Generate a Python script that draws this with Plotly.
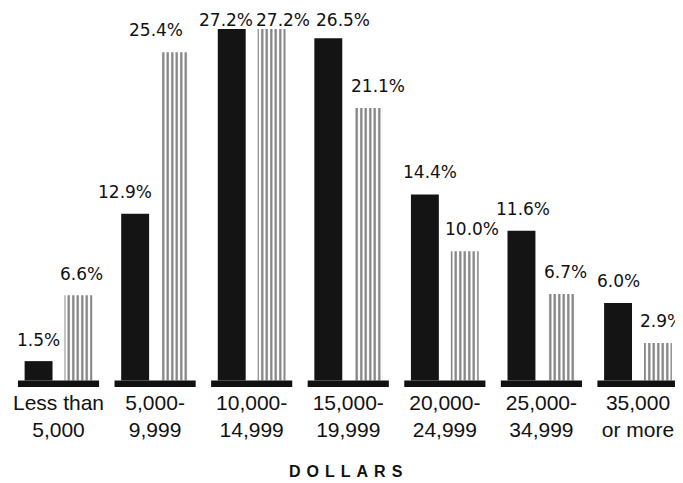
import plotly.graph_objects as go

categories = ["Less than<br>5,000", "5,000-<br>9,999", "10,000-<br>14,999", "15,000-<br>19,999",
              "20,000-<br>24,999", "25,000-<br>34,999", "35,000<br>or more"]
series_solid = [1.5, 12.9, 27.2, 26.5, 14.4, 11.6, 6.0]
series_striped = [6.6, 25.4, 27.2, 21.1, 10.0, 6.7, 2.9]
x_title = "DOLLARS"

# label nudges in pixels (style only)
solid_label_dx = [0, -10, -6, 15, 5, 2, 0]
striped_label_dx = [3, -19, 11, 10, 7, 4, 4]
solid_label_dy = [9, 10, -3, 6, 10, 10, 10]
striped_label_dy = [9, 10, -3, 10, 10, 10, 10]

idx = list(range(len(categories)))
BARGAP = 0.174
BARGROUPGAP = 0.3
half_slot = (1 - BARGAP) / 4.0  # offset of each bar's centre from category centre

label_font = dict(family="DejaVu Sans, sans-serif", size=17, color="#111")

fig = go.Figure()
fig.add_trace(go.Bar(
    x=idx, y=series_solid,
    marker=dict(color="#141414", line=dict(width=0)),
    showlegend=False, hoverinfo="skip",
))
fig.add_trace(go.Bar(
    x=idx, y=series_striped,
    marker=dict(color="white", line=dict(width=0),
                pattern=dict(shape="|", fgcolor="#000", bgcolor="white", size=4.5, solidity=0.5)),
    showlegend=False, hoverinfo="skip",
))

annotations = []
for i in idx:
    annotations.append(dict(x=i - half_slot, y=series_solid[i], xref="x", yref="y",
                            text=f"{series_solid[i]:.1f}%", showarrow=False,
                            xanchor="center", yanchor="bottom", xshift=solid_label_dx[i],
                            yshift=solid_label_dy[i], font=label_font))
    annotations.append(dict(x=i + half_slot, y=series_striped[i], xref="x", yref="y",
                            text=f"{series_striped[i]:.1f}%", showarrow=False,
                            xanchor="center", yanchor="bottom", xshift=striped_label_dx[i],
                            yshift=striped_label_dy[i], font=label_font))
annotations.append(dict(text=f"<span style='letter-spacing:6px'>{x_title}</span>",
                        xref="paper", yref="paper", x=0.505, y=-0.249,
                        xanchor="center", yanchor="bottom", showarrow=False,
                        font=dict(family="Liberation Sans, Arial, sans-serif", size=16, color="#111",
                                  weight="bold")))

shapes = [dict(type="rect", xref="x", yref="y", ysizemode="pixel", yanchor=0,
               x0=i - 0.42, x1=i + 0.42, y0=-6.5, y1=0,
               fillcolor="#111", line=dict(width=0), layer="above") for i in idx]

fig.update_layout(
    width=675, height=475,
    margin=dict(l=0, r=0, t=2, b=95),
    paper_bgcolor="white", plot_bgcolor="white",
    barmode="group", bargap=BARGAP, bargroupgap=BARGROUPGAP,
    shapes=shapes, annotations=annotations,
    xaxis=dict(range=[-0.523, 6.466], tickvals=idx, ticktext=categories, showgrid=False,
               zeroline=False, showline=False, ticks="",
               tickfont=dict(family="Liberation Sans, Arial, sans-serif", size=21, color="#111")),
    yaxis=dict(range=[-0.58, 28.68], visible=False, showgrid=False, zeroline=False),
)

fig.write_html("out.html")
